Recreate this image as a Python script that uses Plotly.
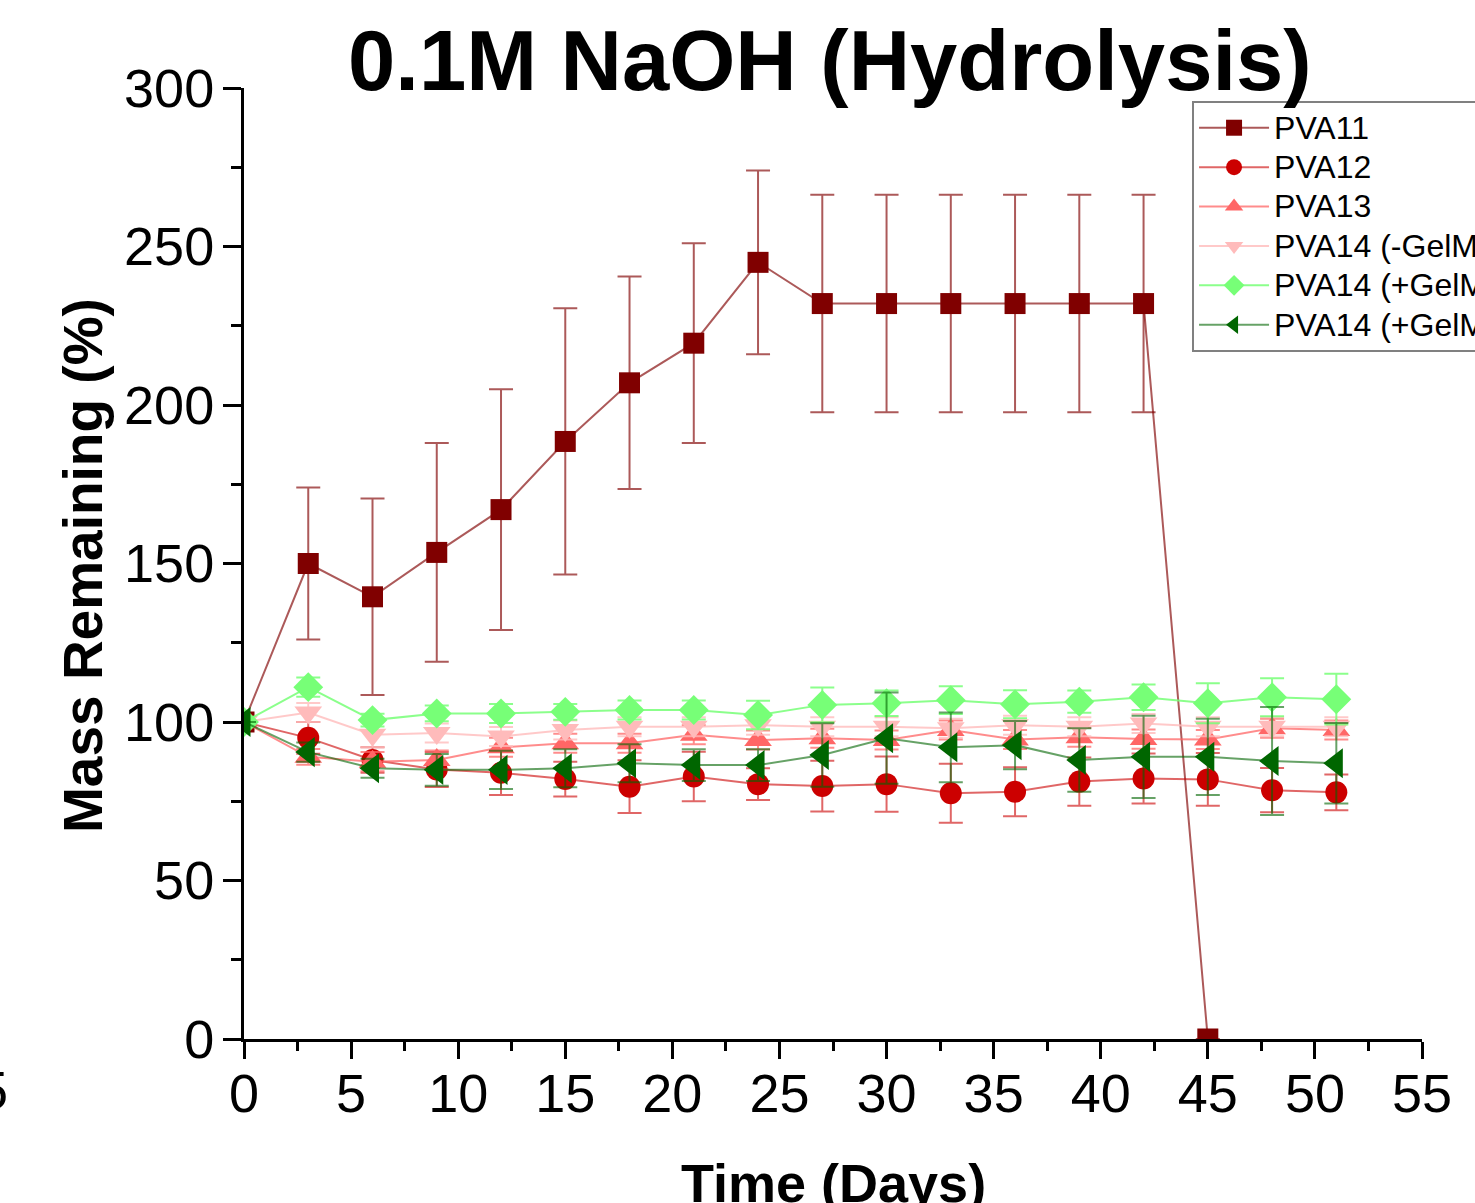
import plotly.graph_objects as go

days = [0, 3, 6, 9, 12, 15, 18, 21, 24, 27, 30, 33, 36, 39, 42, 45, 48, 51]
days11 = days[:16]

names = ["PVA11", "PVA12", "PVA13", "PVA14 (-GelMA)", "PVA14 (+GelMA)", "PVA14 (+GelMA)"]

pva11 = [100, 150, 139.5, 153.5, 167, 188.5, 207, 219.5, 245, 232, 232, 232, 232, 232, 232, 0]
pva11_err = [0, 24, 31, 34.5, 38, 42, 33.5, 31.5, 29, 34.3, 34.3, 34.3, 34.3, 34.3, 34.3, 0]

pva12 = [100, 95, 88, 85, 84, 82, 79.6, 82.8, 80.4, 79.8, 80.4, 77.5, 78, 81.2, 82.2, 81.9, 78.5, 77.8]
pva12_err = [0, 5, 4, 5.5, 7, 5.5, 8.3, 7.8, 5, 8, 8.7, 9.3, 7.7, 7.6, 7.9, 8.3, 7, 5.6]

pva13 = [100, 89, 87.5, 88, 92, 93.3, 93.3, 96, 94.3, 94.9, 94.3, 97.5, 94.5, 95.2, 94.6, 94.5, 98, 97.5]
pva13_err = [0, 2.5, 3, 3, 3, 3, 3, 3, 3, 3, 3, 3, 3, 3, 3, 3, 3, 3]

pva14_minus = [100, 103, 96, 96.5, 95.4, 97.5, 98.5, 98.5, 99, 98.5, 98.5, 98, 99, 98.5, 99.5, 98.5, 98.5, 98.5]
pva14_minus_err = [0, 3, 4, 3, 3, 3, 3, 3, 3, 3, 3, 3, 3, 3, 3, 3, 3, 3]

pva14_plus_a = [100, 111, 100.6, 102.7, 102.7, 103.2, 103.8, 103.8, 102.2, 105.4, 105.9, 106.9, 105.6, 106.4, 107.8, 105.9, 107.8, 107.2]
pva14_plus_a_err = [0, 3, 2, 2.5, 3, 2.5, 3, 3, 4.5, 5.5, 4, 4.4, 4.4, 3.5, 4, 6.3, 6, 8]

pva14_plus_b = [100, 90.5, 85.4, 84.9, 84.9, 85.4, 87, 86.4, 86.4, 89.6, 94.9, 92, 92.7, 88, 89, 89, 87.7, 87]
pva14_plus_b_err = [0, 3, 3, 5, 6, 6, 6, 5, 5, 10, 14.4, 11, 7.6, 10, 13, 12, 17, 12.7]

series = [
    (days11, pva11, pva11_err, "square", 21, "#800000", "rgba(128,0,0,0.65)"),
    (days, pva12, pva12_err, "circle", 22, "#cc0000", "rgba(204,0,0,0.6)"),
    (days, pva13, pva13_err, "triangle-up", 24, "#ff6666", "rgba(255,102,102,0.75)"),
    (days, pva14_minus, pva14_minus_err, "triangle-down", 24, "#ffbbbb", "rgba(255,187,187,0.8)"),
    (days, pva14_plus_a, pva14_plus_a_err, "diamond", 23, "#77ff77", "rgba(119,255,119,0.85)"),
    (days, pva14_plus_b, pva14_plus_b_err, "triangle-left", 26, "#006600", "rgba(0,100,0,0.6)"),
]

FONT = "Liberation Sans, Arial, sans-serif"

fig = go.Figure()
for name, (x, y, e, sym, sz, mc, lc) in zip(names, series):
    fig.add_trace(go.Scatter(
        x=x, y=y, name=f'<span style="font-size:32px">{name}</span>', mode="lines+markers",
        line=dict(color=lc, width=2),
        marker=dict(symbol=sym, size=sz, color=mc, line=dict(width=0)),
        error_y=dict(type="data", array=e, visible=True, color=lc, thickness=2, width=12),
    ))

fig.update_layout(
    width=1475, height=1203,
    margin=dict(l=244, r=53, t=88, b=164, autoexpand=False),
    paper_bgcolor="white", plot_bgcolor="white",
    font=dict(family=FONT, color="black"),
    showlegend=True,
    legend=dict(
        x=0.8048, y=0.9863, xanchor="left", yanchor="top",
        font=dict(size=28, family=FONT, color="black"),
        bordercolor="#808080", borderwidth=2, bgcolor="white",
        itemwidth=70, tracegroupgap=0,
    ),
    xaxis=dict(
        range=[0, 55], tickmode="linear", tick0=0, dtick=5,
        showline=True, linecolor="black", linewidth=3,
        ticks="outside", ticklen=17, tickwidth=3, tickcolor="black",
        tickfont=dict(size=54, family=FONT), showgrid=False, zeroline=False,
        minor=dict(dtick=2.5, ticklen=9, tickwidth=3, tickcolor="black", ticks="outside", showgrid=False),
        ticklabelstandoff=-12,
    ),
    yaxis=dict(
        range=[0, 300], tickmode="linear", tick0=0, dtick=50,
        showline=True, linecolor="black", linewidth=3,
        ticks="outside", ticklen=18, tickwidth=3, tickcolor="black",
        tickfont=dict(size=54, family=FONT), showgrid=False, zeroline=False,
        minor=dict(dtick=25, ticklen=10, tickwidth=3, tickcolor="black", ticks="outside", showgrid=False),
        ticklabelstandoff=-2,
    ),
    annotations=[
        dict(text="<b>0.1M NaOH (Hydrolysis)</b>", xref="paper", yref="paper",
             x=0.4975, y=1, xanchor="center", yanchor="middle", yshift=28,
             showarrow=False, font=dict(size=85, family=FONT, color="black")),
        dict(text="<b>Time (Days)</b>", xref="paper", yref="paper",
             x=0.5, y=0, xanchor="center", yanchor="top", yshift=-112,
             showarrow=False, font=dict(size=54, family=FONT, color="black")),
        dict(text="<b>Mass Remaining (%)</b>", xref="paper", yref="paper",
             x=0, y=0.4974, xanchor="center", yanchor="middle", xshift=-161,
             textangle=-90, showarrow=False, font=dict(size=55, family=FONT, color="black")),
        dict(text="5", xref="paper", yref="paper",
             x=0, y=0, xanchor="right", yanchor="middle", xshift=-234, yshift=-51,
             showarrow=False, font=dict(size=54, family=FONT, color="black")),
    ],
)

fig.write_html(
    "out.html",
    config={"displayModeBar": False},
    post_script="document.body.style.margin='0';document.body.style.overflow='hidden';",
)
